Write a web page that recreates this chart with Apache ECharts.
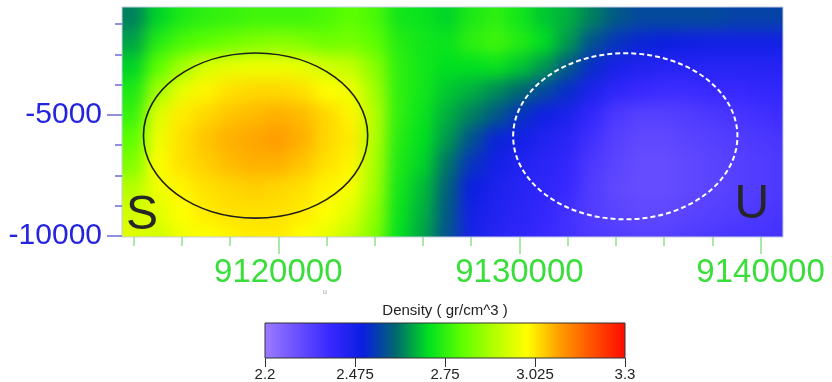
<!DOCTYPE html>
<html><head><meta charset="utf-8">
<script src="https://cdn.jsdelivr.net/npm/echarts@6/dist/echarts.min.js"></script>
<style>
html,body{margin:0;padding:0;background:#fff}
#wrap{position:relative;width:832px;height:382px}
#heatClip{position:absolute;left:122px;top:7px;width:661px;height:230px;overflow:hidden}
#heat{position:absolute;left:-30px;top:-30px;width:721px;height:290px;filter:url(#smooth)}
#c{position:absolute;left:0;top:0;width:832px;height:382px}
</style>
</head><body>
<svg width="0" height="0" style="position:absolute">
  <filter id="smooth" x="0" y="0" width="1" height="1" color-interpolation-filters="sRGB">
    <feGaussianBlur stdDeviation="8"/>
  </filter>
</svg>
<div id="wrap"><div id="heatClip"><div id="heat"></div></div><div id="c"></div></div>
<script>
// ---- data ----
const xCenters = [9114000, 9115000, 9116000, 9117000, 9118000, 9119000, 9120000, 9121000, 9122000, 9123000,
  9124000, 9125000, 9126000, 9127000, 9128000, 9129000, 9130000, 9131000, 9132000, 9133000,
  9134000, 9135000, 9136000, 9137000, 9138000, 9139000, 9140000, 9141000];
const yCenters = [-1000, -2000, -3000, -4000, -5000, -6000, -7000, -8000, -9000, -10000];
const density = [
  [2.62, 2.69, 2.73, 2.75, 2.76, 2.77, 2.77, 2.77, 2.78, 2.80, 2.78, 2.72, 2.71, 2.69, 2.73, 2.75, 2.72, 2.68, 2.66, 2.62, 2.58, 2.56, 2.56, 2.56, 2.56, 2.55, 2.55, 2.55],
  [2.65, 2.74, 2.78, 2.80, 2.82, 2.84, 2.85, 2.84, 2.82, 2.83, 2.80, 2.74, 2.72, 2.71, 2.75, 2.77, 2.74, 2.70, 2.64, 2.57, 2.53, 2.51, 2.50, 2.49, 2.48, 2.48, 2.48, 2.48],
  [2.69, 2.80, 2.88, 2.95, 2.97, 2.98, 2.98, 2.97, 2.94, 2.92, 2.85, 2.75, 2.72, 2.70, 2.70, 2.71, 2.68, 2.64, 2.58, 2.52, 2.47, 2.45, 2.44, 2.44, 2.44, 2.44, 2.44, 2.44],
  [2.73, 2.88, 2.97, 3.01, 3.03, 3.04, 3.04, 3.03, 3.00, 2.98, 2.88, 2.75, 2.72, 2.68, 2.66, 2.63, 2.60, 2.56, 2.52, 2.46, 2.42, 2.40, 2.39, 2.39, 2.40, 2.40, 2.41, 2.41],
  [2.76, 2.96, 3.02, 3.04, 3.06, 3.07, 3.08, 3.07, 3.04, 3.01, 2.90, 2.75, 2.71, 2.66, 2.62, 2.58, 2.53, 2.49, 2.46, 2.41, 2.36, 2.34, 2.34, 2.35, 2.36, 2.37, 2.38, 2.39],
  [2.80, 2.98, 3.03, 3.06, 3.08, 3.09, 3.10, 3.08, 3.04, 3.02, 2.90, 2.74, 2.70, 2.64, 2.57, 2.51, 2.48, 2.45, 2.43, 2.38, 2.34, 2.32, 2.32, 2.33, 2.34, 2.35, 2.36, 2.37],
  [2.84, 3.00, 3.03, 3.05, 3.07, 3.08, 3.08, 3.06, 3.03, 3.01, 2.89, 2.73, 2.69, 2.61, 2.53, 2.48, 2.45, 2.43, 2.41, 2.36, 2.33, 2.31, 2.31, 2.32, 2.33, 2.34, 2.35, 2.36],
  [2.90, 2.98, 3.01, 3.03, 3.04, 3.05, 3.04, 3.03, 3.01, 2.99, 2.88, 2.72, 2.67, 2.59, 2.50, 2.46, 2.44, 2.42, 2.40, 2.35, 2.32, 2.31, 2.31, 2.32, 2.33, 2.34, 2.35, 2.36],
  [2.94, 2.96, 3.00, 3.02, 3.03, 3.03, 3.03, 3.02, 3.00, 2.96, 2.86, 2.71, 2.66, 2.58, 2.48, 2.45, 2.43, 2.41, 2.38, 2.35, 2.33, 2.32, 2.32, 2.33, 2.34, 2.35, 2.36, 2.37],
  [2.96, 2.94, 2.98, 3.00, 3.01, 3.02, 3.02, 3.00, 2.97, 2.92, 2.84, 2.70, 2.65, 2.57, 2.47, 2.44, 2.42, 2.40, 2.38, 2.36, 2.35, 2.34, 2.34, 2.35, 2.36, 2.37, 2.37, 2.38]
];
const xMajorTicks = [9120000, 9130000, 9140000];
const xMinorTicks = [9114000, 9116000, 9118000, 9120000, 9122000, 9124000, 9126000, 9128000, 9130000, 9132000, 9134000, 9136000, 9138000, 9140000];
const yMajorTicks = [-10000, -5000];
const yMinorTicks = [-10000, -8750, -7500, -6250, -5000, -3750, -2500, -1250];
const colorbarTicks = [2.2, 2.475, 2.75, 3.025, 3.3];
const colorbarRange = [2.2, 3.3];
const zoneEllipses = [[9119060, -5850, 4650, 3410], [9134390, -5880, 4650, 3430]]; // cx, cy, rx, ry
const zoneLabels = [[9114350, -9150, 'S'], [9139640, -8720, 'U']];
const colorbarTitle = 'Density ( gr/cm^3 )';

// ---- styling ----
const COLORS = ['#9c7cff', '#6a50ff', '#3828ff', '#0a1ee0', '#00686e', '#00e020', '#5cff00', '#b4ff00', '#ffff00', '#ff9c00', '#ff5000', '#ff0a00'];
const FONT = '"Liberation Sans", Arial, sans-serif';
const X_MIN = 9113520, X_MAX = 9140930, Y_MIN = -10040, Y_MAX = -540;
const PLOT_W = 661, PLOT_H = 230, PAD = 30; // smoothing layer overscan (px)
const CELL_W = xCenters[1] - xCenters[0];
const CELL_H = yCenters[0] - yCenters[1];

const cells = [];
yCenters.forEach((y, i) => xCenters.forEach((x, j) => cells.push([x, y, density[i][j]])));

// cells on the outer ring are stretched to the (overscanned) layer edge so the smoothing has no fade-out
function renderCell(params, api) {
  const x = api.value(0), y = api.value(1);
  const cs = params.coordSys;
  const p0 = api.coord([x - CELL_W / 2, y + CELL_H / 2]);
  const p1 = api.coord([x + CELL_W / 2, y - CELL_H / 2]);
  let x0 = p0[0], y0 = p0[1], x1 = p1[0] + 0.6, y1 = p1[1] + 0.6;
  if (x === xCenters[0]) x0 = cs.x;
  if (x === xCenters[xCenters.length - 1]) x1 = cs.x + cs.width;
  if (y === yCenters[0]) y0 = cs.y;
  if (y === yCenters[yCenters.length - 1]) y1 = cs.y + cs.height;
  return { type: 'rect', shape: { x: x0, y: y0, width: x1 - x0, height: y1 - y0 }, style: { fill: api.visual('color') } };
}
function ellipseRenderer(style) {
  return function (params, api) {
    const c = api.coord([api.value(0), api.value(1)]);
    const s = api.size([api.value(2), api.value(3)]);
    return { type: 'ellipse', shape: { cx: c[0], cy: c[1], rx: s[0], ry: s[1] },
      style: Object.assign({ fill: null }, style) };
  };
}
function renderZoneLabel(params, api) {
  const c = api.coord([api.value(0), api.value(1)]);
  return { type: 'text', x: c[0], y: c[1],
    style: { text: zoneLabels[params.dataIndex][2], fill: '#262626', font: '48px ' + FONT, align: 'center', verticalAlign: 'middle' } };
}
function renderColorbar(params, api) {
  const p0 = api.coord([api.value(0), 1]);
  const p1 = api.coord([api.value(1), 0]);
  return { type: 'rect', shape: { x: p0[0], y: p0[1], width: p1[0] - p0[0], height: p1[1] - p0[1] },
    style: { fill: new echarts.graphic.LinearGradient(0, 0, 1, 0,
      COLORS.map((c, i) => ({ offset: i / (COLORS.length - 1), color: c }))), stroke: '#333', lineWidth: 1 } };
}

// density field: smoothed layer on the same scale as the plot area, overscanned by PAD px
const dxPad = PAD * (X_MAX - X_MIN) / PLOT_W, dyPad = PAD * (Y_MAX - Y_MIN) / PLOT_H;
const heat = echarts.init(document.getElementById('heat'), null, { renderer: 'canvas' });
heat.setOption({
  animation: false,
  grid: { left: 0, top: 0, right: 0, bottom: 0 },
  xAxis: { type: 'value', min: X_MIN - dxPad, max: X_MAX + dxPad, show: false },
  yAxis: { type: 'value', min: Y_MIN - dyPad, max: Y_MAX + dyPad, show: false },
  visualMap: { type: 'continuous', show: false, min: colorbarRange[0], max: colorbarRange[1],
    seriesIndex: 0, dimension: 2, inRange: { color: COLORS } },
  series: [{ type: 'custom', name: 'Density', renderItem: renderCell, data: cells, silent: true }]
});

// axes, annotations and colorbar
const chart = echarts.init(document.getElementById('c'), null, { renderer: 'canvas' });
chart.setOption({
  animation: false,
  backgroundColor: 'transparent',
  grid: [
    { left: 122, top: 7, width: PLOT_W, height: PLOT_H, show: true, borderColor: '#c4cce0', borderWidth: 1, backgroundColor: 'transparent' },
    { left: 265, top: 323, width: 360, height: 36 }
  ],
  xAxis: [
    { gridIndex: 0, type: 'value', min: X_MIN, max: X_MAX, position: 'bottom',
      axisLine: { show: false }, splitLine: { show: false },
      axisTick: { show: true, customValues: xMajorTicks, length: 17, lineStyle: { color: '#8ee08e', width: 1.5 } },
      axisLabel: { customValues: xMajorTicks, formatter: v => String(v), color: '#3ade3a', fontSize: 33, fontFamily: FONT, margin: 19 } },
    { gridIndex: 0, type: 'value', min: X_MIN, max: X_MAX, position: 'bottom',
      axisLine: { show: false }, splitLine: { show: false },
      axisTick: { show: true, customValues: xMinorTicks, length: 9, lineStyle: { color: '#8ee08e', width: 1.5 } },
      axisLabel: { show: false } },
    { gridIndex: 1, type: 'value', min: colorbarRange[0], max: colorbarRange[1], position: 'bottom',
      axisLine: { show: false }, splitLine: { show: false },
      axisTick: { show: true, customValues: colorbarTicks, length: 9, lineStyle: { color: '#333', width: 1 } },
      axisLabel: { customValues: colorbarTicks, formatter: v => String(v), color: '#222', fontSize: 15, fontFamily: FONT, margin: 9 } }
  ],
  yAxis: [
    { gridIndex: 0, type: 'value', min: Y_MIN, max: Y_MAX, position: 'left',
      axisLine: { show: false }, splitLine: { show: false },
      axisTick: { show: true, customValues: yMajorTicks, length: 15, lineStyle: { color: '#6c6cd6', width: 1.5 } },
      axisLabel: { customValues: yMajorTicks, formatter: v => String(v), color: '#2424e0', fontSize: 30, fontFamily: FONT, margin: 20 } },
    { gridIndex: 0, type: 'value', min: Y_MIN, max: Y_MAX, position: 'left',
      axisLine: { show: false }, splitLine: { show: false },
      axisTick: { show: true, customValues: yMinorTicks, length: 7, lineStyle: { color: '#6c6cd6', width: 1.5 } },
      axisLabel: { show: false } },
    { gridIndex: 1, type: 'value', min: 0, max: 1, show: false }
  ],
  series: [
    { type: 'custom', name: 'S zone', xAxisIndex: 0, yAxisIndex: 0, renderItem: ellipseRenderer({ stroke: '#1e1e1e', lineWidth: 1.6 }), data: [zoneEllipses[0]], silent: true, z: 5 },
    { type: 'custom', name: 'U zone', xAxisIndex: 0, yAxisIndex: 0, renderItem: ellipseRenderer({ stroke: '#ffffff', lineWidth: 2, lineDash: [5, 3] }), data: [zoneEllipses[1]], silent: true, z: 5 },
    { type: 'custom', name: 'Zone labels', xAxisIndex: 0, yAxisIndex: 0, renderItem: renderZoneLabel, data: zoneLabels.map(d => [d[0], d[1]]), silent: true, z: 6 },
    { type: 'custom', name: 'Colorbar', xAxisIndex: 2, yAxisIndex: 2, renderItem: renderColorbar, data: [colorbarRange], silent: true }
  ],
  graphic: [
    { type: 'text', x: 445, y: 311, style: { text: colorbarTitle, fill: '#222', font: '15px ' + FONT, align: 'center', verticalAlign: 'middle' } },
    { type: 'text', x: 325, y: 292, style: { text: 'u', fill: '#999', font: '7px ' + FONT, align: 'center', verticalAlign: 'middle' } }
  ]
});
</script></body></html>
